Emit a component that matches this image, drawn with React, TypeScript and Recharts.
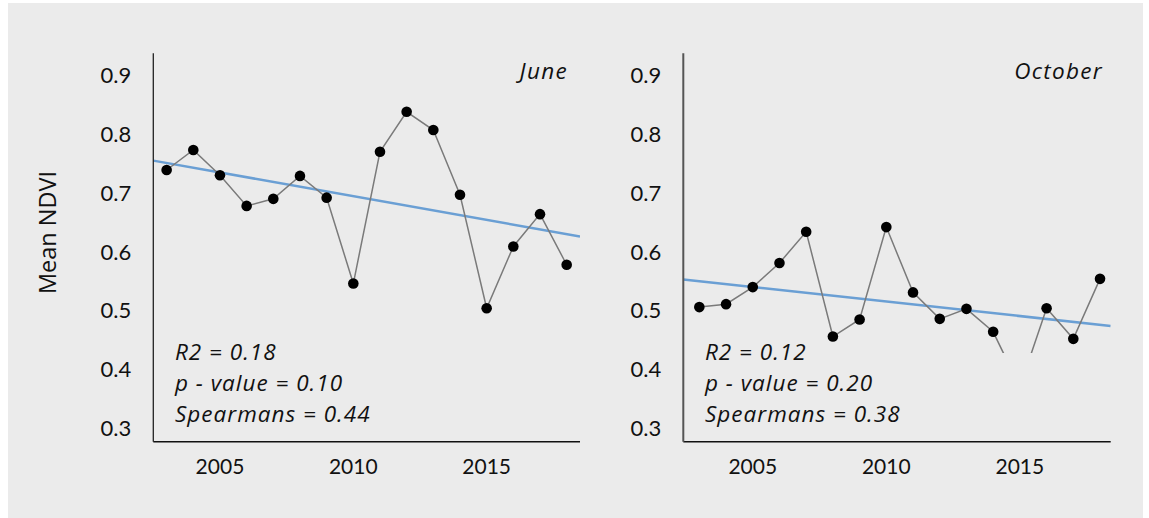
import React from "react";
import { Line, LineChart, XAxis, YAxis } from "recharts";

const years = [2003, 2004, 2005, 2006, 2007, 2008, 2009, 2010, 2011, 2012, 2013, 2014, 2015, 2016, 2017, 2018];
const juneNdvi = [0.739, 0.773, 0.73, 0.678, 0.69, 0.729, 0.692, 0.546, 0.77, 0.838, 0.807, 0.697, 0.504, 0.609, 0.664, 0.578];
const octNdvi = [0.506, 0.511, 0.54, 0.581, 0.634, 0.456, 0.485, 0.642, 0.531, 0.486, 0.503, 0.464, 0.37, 0.504, 0.452, 0.554];

// fitted trend lines, end points
const juneTrendX = [2002.5, 2018.5];
const juneTrendY = [0.755, 0.626];
const octTrendX = [2002.4, 2018.4];
const octTrendY = [0.553, 0.474];

const yTicks = [0.3, 0.4, 0.5, 0.6, 0.7, 0.8, 0.9];
const xTicks = [2005, 2010, 2015];
const yDomain = [0.2772, 0.9374];

const juneStats = ["R2 = 0.18", "p - value = 0.10", "Spearmans = 0.44"];
const octStats = ["R2 = 0.12", "p - value = 0.20", "Spearmans = 0.38"];

const BG = "#ebebeb";
const FONT = "Lato, 'Open Sans', sans-serif";
const NOTE_FONT = "'Open Sans', Lato, sans-serif";

type PanelProps = {
  left: number;
  plotLeft: number;
  plotRight: number;
  xDomain: number[];
  values: number[];
  trendX: number[];
  trendY: number[];
  axisColor: string;
  axisWidth: number;
};

function Panel({ left, plotLeft, plotRight, xDomain, values, trendX, trendY, axisColor, axisWidth }: PanelProps) {
  const W = 600;
  const H = 510;
  const yAxisW = 60;
  const rows = years.map((y, i) => ({ year: y, ndvi: values[i] }));
  const trend = trendX.map((x, i) => ({ year: x, fit: trendY[i] }));
  return (
    <div style={{ position: "absolute", left, top: 0 }}>
      <LineChart
        width={W}
        height={H}
        data={rows}
        margin={{ top: 53.3, left: plotLeft - left - yAxisW, right: left + W - plotRight, bottom: H - 441.7 - 30 }}
      >
        <XAxis
          dataKey="year"
          type="number"
          domain={xDomain}
          ticks={xTicks}
          allowDataOverflow
          tickLine={false}
          tickSize={0}
          tickMargin={17}
          height={30}
          axisLine={{ stroke: "#111", strokeWidth: 1.5 }}
          tick={{ fontSize: 21, fill: "#111", fontFamily: FONT }}
        />
        <YAxis
          domain={yDomain}
          ticks={yTicks}
          allowDataOverflow
          width={yAxisW}
          tickLine={false}
          tickSize={0}
          tickMargin={22}
          axisLine={{ stroke: axisColor, strokeWidth: axisWidth }}
          tick={{ fontSize: 22, fill: "#111", fontFamily: FONT }}
          tickFormatter={(v: number) => v.toFixed(1)}
        />
        <Line
          data={trend}
          dataKey="fit"
          stroke="#6a9fd4"
          strokeWidth={2.5}
          dot={false}
          isAnimationActive={false}
        />
        <Line
          dataKey="ndvi"
          stroke="#7a7a7a"
          strokeWidth={1.5}
          dot={{ r: 5.3, fill: "#000", stroke: "none" }}
          isAnimationActive={false}
        />
      </LineChart>
    </div>
  );
}

function Notes({ x, lines, title, titleRight }: { x: number; lines: string[]; title: string; titleRight: number }) {
  const baselines = [360.3, 391, 422];
  return (
    <g style={{ fontFamily: NOTE_FONT, fontStyle: "italic", fontSize: 22.5, fill: "#111" }}>
      <rect x={x - 15} y={353} width={360} height={82} fill={BG} />
      {lines.map((t, i) => (
        <text key={t} x={x} y={baselines[i]} letterSpacing={1}>
          {t}
        </text>
      ))}
      <text x={titleRight} y={79} textAnchor="end" letterSpacing={1.3}>
        {title}
      </text>
    </g>
  );
}

export default function App() {
  return (
    <div style={{ position: "absolute", left: 0, top: 0, width: 1149, height: 518, background: "#fff", fontFamily: FONT }}>
      <div style={{ position: "absolute", left: 8, top: 3, width: 1135, height: 515, background: BG }} />
      <Panel
        left={0}
        plotLeft={153.3}
        plotRight={580}
        xDomain={[2002.5, 2018.5]}
        values={juneNdvi}
        trendX={juneTrendX}
        trendY={juneTrendY}
        axisColor="#222"
        axisWidth={1.3}
      />
      <Panel
        left={530}
        plotLeft={683.3}
        plotRight={1110.7}
        xDomain={[2002.4, 2018.4]}
        values={octNdvi}
        trendX={octTrendX}
        trendY={octTrendY}
        axisColor="#555"
        axisWidth={2}
      />
      <svg width={1149} height={518} style={{ position: "absolute", left: 0, top: 0, pointerEvents: "none" }}>
        <text
          transform="translate(56, 232.5) rotate(-90)"
          textAnchor="middle"
          style={{ fontFamily: NOTE_FONT, fontSize: 23.5, fill: "#111" }}
        >
          Mean NDVI
        </text>
        <Notes x={175} lines={juneStats} title="June" titleRight={568} />
        <Notes x={705} lines={octStats} title="October" titleRight={1103} />
      </svg>
    </div>
  );
}
